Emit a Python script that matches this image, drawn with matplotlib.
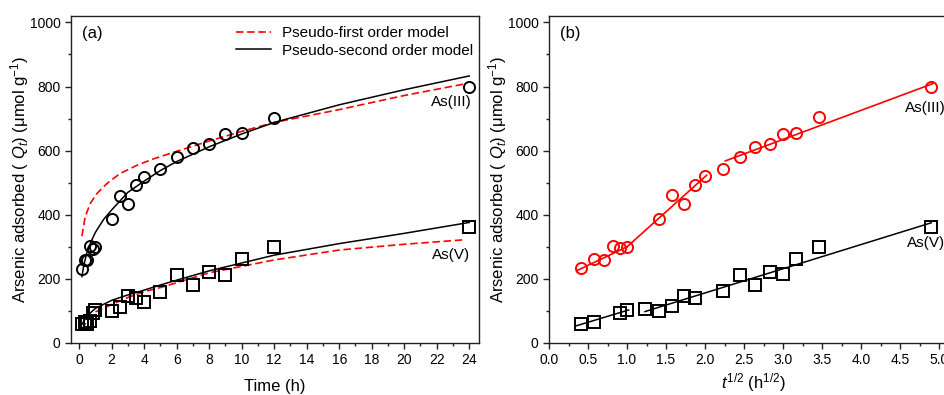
import matplotlib
matplotlib.use("Agg")
import matplotlib.pyplot as plt
from matplotlib.ticker import MultipleLocator
import numpy as np

# ---- measured data, panel (a): uptake vs time ----
t_as3 = [0.167, 0.333, 0.5, 0.667, 0.833, 1, 2, 2.5, 3, 3.5, 4, 5, 6, 7, 8, 9, 10, 12, 24]
q_as3 = [232, 260, 258, 302, 293, 298, 387, 460, 433, 492, 519, 544, 579, 609, 621, 651, 655, 703, 798]

t_as5 = [0.167, 0.333, 0.5, 0.667, 0.833, 1, 2, 2.5, 3, 3.5, 4, 5, 6, 7, 8, 9, 10, 12, 24]
q_as5 = [60, 65, 58, 68, 95, 102, 100, 113, 147, 141, 129, 160, 211, 181, 222, 213, 262, 298, 363]

# model curves
t_pso_as3 = [0.17, 0.3, 0.5, 0.75, 1, 1.5, 2, 3, 4, 5, 6, 8, 10, 12, 16, 20, 24]
q_pso_as3 = [207, 246, 286, 318, 345, 385, 415, 470, 505, 538, 566, 612, 652, 688, 743, 790, 833]
t_pfo_as3 = [0.17, 0.37, 0.68, 1.09, 1.7, 2.5, 3.5, 4.5, 6, 8, 10, 12, 16, 20, 23.7]
q_pfo_as3 = [333, 393, 435, 466, 497, 528, 553, 573, 598, 630, 660, 688, 728, 772, 808]

t_pso_as5 = [0.17, 0.5, 1, 2, 3, 4, 5, 6, 8, 12, 16, 20, 24]
q_pso_as5 = [58, 85, 108, 133, 150, 165, 181, 196, 225, 274, 310, 342, 376]
t_pfo_as5 = [0.17, 0.5, 1, 2, 3, 4, 5, 6, 8, 12, 16, 20, 23.7]
q_pfo_as5 = [42, 70, 97, 120, 142, 160, 173, 188, 219, 259, 290, 308, 322]

# ---- panel (b): intraparticle diffusion plot ----
t_b_as3 = t_as3
q_b_as3 = [233, 261, 259, 303, 295, 300, 388, 461, 434, 492, 521, 544, 580, 611, 622, 653, 655, 705, 798]
t_b_as5 = [0.167, 0.333, 0.833, 1, 1.5, 2, 2.5, 3, 3.5, 5, 6, 7, 8, 9, 10, 12, 24]
q_b_as5 = [59, 65, 95, 103, 105, 100, 114, 146, 141, 161, 213, 181, 223, 214, 262, 298, 363]

# piecewise linear fits (x = t^1/2, q)
fit_as3 = [([0.36, 1.0], [226, 300]),
           ([1.0, 2.02], [300, 523]),
           ([2.26, 4.92], [568, 809])]
fit_as5 = [([0.355, 1.02], [54, 103]),
           ([1.23, 4.9], [98, 375])]

plt.rcParams['font.family'] = ['Liberation Sans', 'DejaVu Sans']
plt.rcParams['mathtext.fontset'] = 'custom'
plt.rcParams['mathtext.rm'] = 'Liberation Sans'
plt.rcParams['mathtext.it'] = 'Liberation Sans:italic'
plt.rcParams['axes.linewidth'] = 1.0
plt.rcParams['axes.edgecolor'] = '#222222'

fig = plt.figure(figsize=(9.45, 3.95), dpi=100)
ax_a = fig.add_axes([71 / 945, 52 / 395, 408 / 945, 327 / 395])
ax_b = fig.add_axes([549 / 945, 52 / 395, 408 / 945, 327 / 395])

ylab = r'Arsenic adsorbed ( $Q_t$) (μmol g$^{-1}$)'
mk = dict(linestyle='none', markerfacecolor='none', markersize=8, markeredgewidth=1.4)
dash = (0, (4.5, 2.2))

# (a)
ax_a.plot(t_pfo_as3, q_pfo_as3, color='red', lw=1.2, linestyle=dash, label='Pseudo-first order model')
ax_a.plot(t_pso_as3, q_pso_as3, color='black', lw=1.1, label='Pseudo-second order model')
ax_a.plot(t_pfo_as5, q_pfo_as5, color='red', lw=1.2, linestyle=dash)
ax_a.plot(t_pso_as5, q_pso_as5, color='black', lw=1.1)
ax_a.plot(t_as3, q_as3, marker='o', markeredgecolor='black', **mk)
ax_a.plot(t_as5, q_as5, marker='s', markeredgecolor='black', **mk)

ax_a.set_xlim(-0.5, 24.6)
ax_a.set_ylim(0, 1020)
ax_a.xaxis.set_major_locator(MultipleLocator(2))
ax_a.xaxis.set_minor_locator(MultipleLocator(1))
ax_a.set_xlabel('Time (h)', fontsize=12, labelpad=8)
ax_a.text(0.027, 0.948, '(a)', transform=ax_a.transAxes, fontsize=12, va='center', ha='left')
ax_a.text(22.9, 751, 'As(III)', fontsize=11, ha='center', va='center')
ax_a.text(22.9, 274, 'As(V)', fontsize=11, ha='center', va='center')
ax_a.legend(loc='upper right', bbox_to_anchor=((473 - 71) / 408, (343 - 26) / 327),
            frameon=False, fontsize=11, handlelength=2.3, handletextpad=0.7,
            borderpad=0, borderaxespad=0, labelspacing=0.25)

# (b)
for xs, ys in fit_as3:
    ax_b.plot(xs, ys, color='red', lw=1.2)
for xs, ys in fit_as5:
    ax_b.plot(xs, ys, color='black', lw=1.1)
ax_b.plot(np.sqrt(t_b_as3), q_b_as3, marker='o', markeredgecolor='red', **mk)
ax_b.plot(np.sqrt(t_b_as5), q_b_as5, marker='s', markeredgecolor='black', **mk)

ax_b.set_xlim(0, 5.23)
ax_b.set_ylim(0, 1020)
ax_b.xaxis.set_major_locator(MultipleLocator(0.5))
ax_b.xaxis.set_minor_locator(MultipleLocator(0.25))
ax_b.xaxis.set_major_formatter(matplotlib.ticker.FormatStrFormatter('%.1f'))
ax_b.set_xlabel(r'$t^{1/2}$ (h$^{1/2}$)', fontsize=12, labelpad=3)
ax_b.text(0.027, 0.948, '(b)', transform=ax_b.transAxes, fontsize=12, va='center', ha='left')
ax_b.text(4.83, 732, 'As(III)', fontsize=11, ha='center', va='center')
ax_b.text(4.83, 311, 'As(V)', fontsize=11, ha='center', va='center')

for ax in (ax_a, ax_b):
    ax.yaxis.set_major_locator(MultipleLocator(200))
    ax.yaxis.set_minor_locator(MultipleLocator(100))
    ax.tick_params(which='both', direction='out', top=False, right=False,
                   labelsize=10, color='#222222', width=1.0)
    ax.tick_params(which='major', length=4.5, pad=3)
    ax.tick_params(which='minor', length=2.5)
    ax.set_ylabel(ylab, fontsize=12, labelpad=-1)

fig.savefig('out.png', dpi=100)
